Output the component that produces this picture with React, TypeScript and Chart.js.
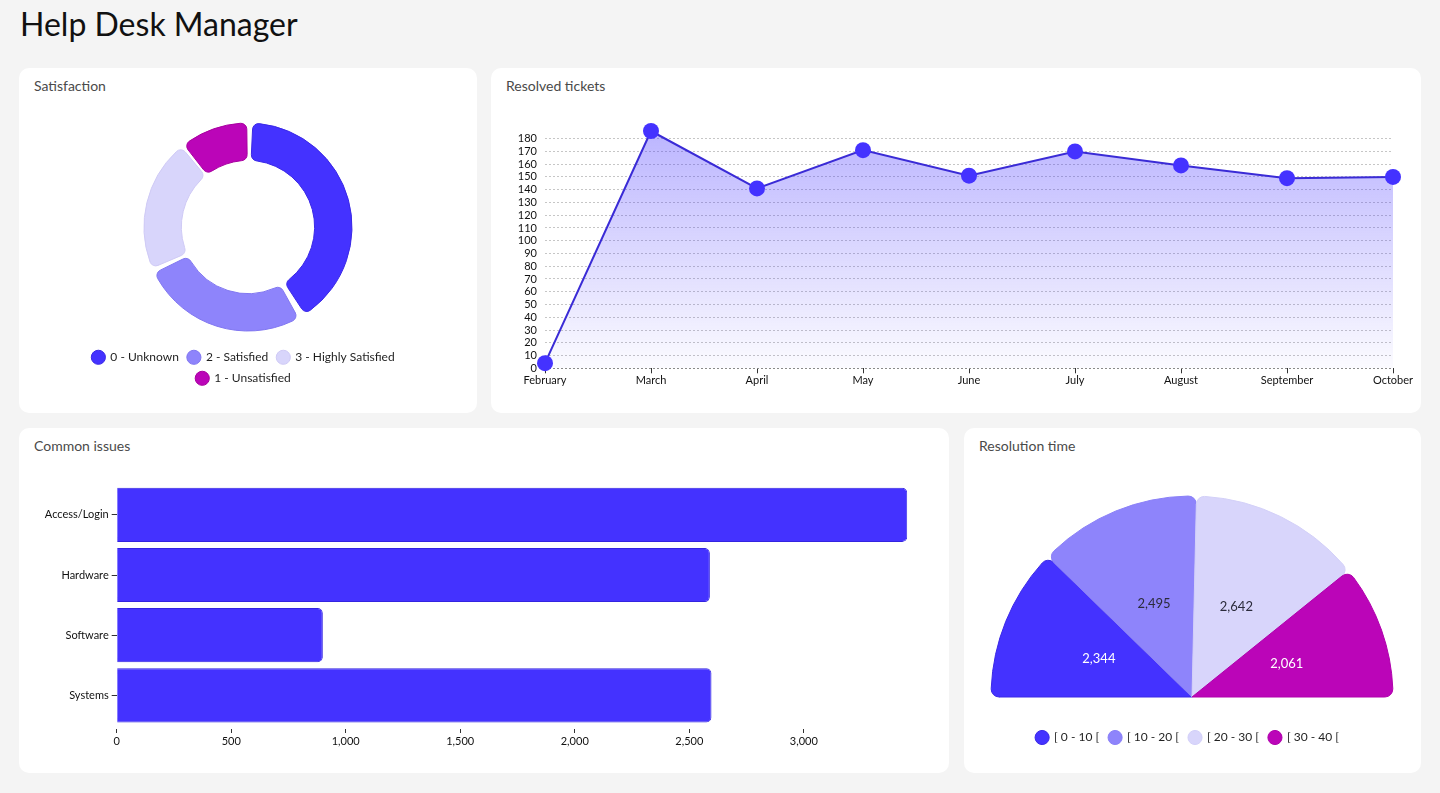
import React, { useEffect, useRef } from 'react';
import { Chart, registerables } from 'chart.js';

Chart.register(...registerables);
Chart.defaults.font.family = "Lato, 'Noto Sans', sans-serif";
Chart.defaults.color = '#1f1f1f';

// ---------- data ----------
const satisfactionLabels = ['0 - Unknown', '2 - Satisfied', '3 - Highly Satisfied', '1 - Unsatisfied'];
const satisfactionValues = [415, 267, 211, 107];
const satisfactionColors = ['#4432ff', '#8e84fb', '#d8d5fb', '#bb05b8'];
const satisfactionBorders = ['#3a28e6', '#8177f0', '#cfcaf5', '#a8009f'];

const months = ['February', 'March', 'April', 'May', 'June', 'July', 'August', 'September', 'October'];
const resolvedTickets = [4, 186, 141, 171, 151, 170, 159, 149, 150];
const resolvedTicks = [0, 10, 20, 30, 40, 50, 60, 70, 80, 90, 100, 110, 120, 130, 140, 150, 160, 170, 180];

const issueCategories = ['Access/Login', 'Hardware', 'Software', 'Systems'];
const issueCounts = [3452, 2590, 900, 2597];
const issueTicks = [0, 500, 1000, 1500, 2000, 2500, 3000];

const resolutionLabels = ['[ 0 - 10 [', '[ 10 - 20 [', '[ 20 - 30 [', '[ 30 - 40 ['];
const resolutionValues = [2344, 2495, 2642, 2061];
const resolutionColors = ['#4432ff', '#8e84fb', '#d8d5fb', '#bb05b8'];
const resolutionBorders = ['#3a28e6', '#8a80f7', '#d3d0f8', '#b000ac'];
const resolutionTextColors = ['#ffffff', '#2b2b3b', '#2b2b3b', '#ffffff'];

// ---------- plugins ----------
const legendShift = {
  id: 'legendShift',
  afterLayout(chart: any, _args: any, opts: any) {
    const d = (opts && opts.dx) || 0;
    if (chart.legend && d) {
      chart.legend.left += d;
      chart.legend.right += d;
    }
  },
};

const sliceLabels = {
  id: 'sliceLabels',
  afterDatasetsDraw(chart: any) {
    const meta = chart.getDatasetMeta(0);
    const ds = chart.data.datasets[0];
    const c = chart.ctx;
    c.save();
    c.font = "13px Lato, 'Noto Sans', sans-serif";
    c.textAlign = 'center';
    c.textBaseline = 'middle';
    meta.data.forEach((arc: any, i: number) => {
      const p = arc.tooltipPosition(false);
      c.fillStyle = resolutionTextColors[i];
      c.fillText(Number(ds.data[i]).toLocaleString('en-US'), p.x, p.y);
    });
    c.restore();
  },
};

// ---------- configs ----------
const satisfactionConfig = (): any => ({
  type: 'doughnut',
  data: {
    labels: satisfactionLabels,
    datasets: [
      {
        data: satisfactionValues,
        backgroundColor: satisfactionColors,
        borderColor: satisfactionBorders,
        borderWidth: 1,
        borderRadius: 6,
        spacing: 6,
      },
    ],
  },
  plugins: [legendShift],
  options: {
    animation: false,
    responsive: true,
    maintainAspectRatio: false,
    radius: 101,
    cutout: '63%',
    layout: { padding: { top: 11.7, bottom: 5.7, left: 40, right: 40 } },
    plugins: {
      legendShift: { dx: -4.5 },
      tooltip: { enabled: false },
      legend: {
        position: 'bottom',
        labels: {
          usePointStyle: true,
          pointStyle: 'circle',
          boxWidth: 12,
          boxHeight: 10,
          padding: 9,
          font: { size: 12 },
          color: '#1f1f1f',
        },
      },
    },
  },
});

const resolvedConfig = (): any => ({
  type: 'line',
  data: {
    labels: months,
    datasets: [
      {
        data: resolvedTickets,
        borderColor: '#3a2bd6',
        borderWidth: 2,
        tension: 0,
        pointRadius: 8,
        pointBorderWidth: 0,
        pointBackgroundColor: '#4432ff',
        pointBorderColor: '#4432ff',
        clip: false,
        fill: 'origin',
        backgroundColor: (ctx: any) => {
          const { chart } = ctx;
          const area = chart.chartArea;
          if (!area) return 'rgba(68,50,255,0.2)';
          const g = chart.ctx.createLinearGradient(0, area.top, 0, area.bottom);
          g.addColorStop(0, 'rgba(68,50,255,0.36)');
          g.addColorStop(1, 'rgba(68,50,255,0.02)');
          return g;
        },
      },
    ],
  },
  options: {
    animation: false,
    responsive: true,
    maintainAspectRatio: false,
    layout: { padding: { top: 31, bottom: 6.7, left: 27, right: 28 } },
    plugins: { legend: { display: false }, tooltip: { enabled: false } },
    scales: {
      x: {
        offset: false,
        afterFit: (a: any) => {
          a.height = 25;
        },
        grid: { drawOnChartArea: false, tickLength: 5, tickColor: '#333' },
        border: { display: false },
        ticks: { padding: 1, font: { size: 11 }, color: '#111', maxRotation: 0, autoSkip: false },
      },
      y: {
        min: 0,
        max: Math.max(...resolvedTickets),
        afterBuildTicks: (a: any) => {
          a.ticks = resolvedTicks.map((v) => ({ value: v }));
        },
        afterFit: (a: any) => {
          a.width = 27;
        },
        grid: {
          drawTicks: false,
          color: (c: any) => (c.tick && c.tick.value === 0 ? '#8a8a8a' : '#c6c6c6'),
        },
        border: { display: false, dash: [2, 2] },
        ticks: { padding: 8, font: { size: 11 }, color: '#111', autoSkip: false },
      },
    },
  },
});

const issuesConfig = (): any => ({
  type: 'bar',
  data: {
    labels: issueCategories,
    datasets: [
      {
        data: issueCounts,
        backgroundColor: '#4432ff',
        borderColor: '#3324e0',
        borderWidth: 1,
        borderRadius: 5,
        borderSkipped: 'start',
        barPercentage: 0.9,
        categoryPercentage: 1,
      },
    ],
  },
  options: {
    indexAxis: 'y',
    animation: false,
    responsive: true,
    maintainAspectRatio: false,
    layout: { padding: { top: 24.8, bottom: 9.6, left: 17.7, right: 41.7 } },
    plugins: { legend: { display: false }, tooltip: { enabled: false } },
    scales: {
      x: {
        min: 0,
        max: Math.max(...issueCounts),
        afterBuildTicks: (a: any) => {
          a.ticks = issueTicks.map((v) => ({ value: v }));
        },
        afterFit: (a: any) => {
          a.height = 25;
        },
        grid: {
          drawOnChartArea: false,
          tickLength: 8,
          tickBorderDash: [0, 4, 4, 100],
          tickColor: '#333',
        },
        border: { display: false },
        ticks: { padding: 1, font: { size: 11 }, color: '#111', autoSkip: false },
      },
      y: {
        afterFit: (a: any) => {
          a.width = 80;
        },
        grid: { drawOnChartArea: false, offset: false, tickLength: 5, tickColor: '#333' },
        border: { display: false },
        ticks: { padding: 3, font: { size: 11 }, color: '#111', autoSkip: false },
      },
    },
  },
});

const resolutionConfig = (): any => ({
  type: 'pie',
  data: {
    labels: resolutionLabels,
    datasets: [
      {
        data: resolutionValues,
        backgroundColor: resolutionColors,
        borderColor: resolutionBorders,
        borderWidth: 1,
        borderRadius: 8,
      },
    ],
  },
  plugins: [legendShift, sliceLabels],
  options: {
    animation: false,
    responsive: true,
    maintainAspectRatio: false,
    rotation: -90,
    circumference: 180,
    radius: 201,
    layout: { padding: { top: 11.5, bottom: 6.5, left: 20, right: 21 } },
    plugins: {
      legendShift: { dx: -4.5 },
      tooltip: { enabled: false },
      legend: {
        position: 'bottom',
        labels: {
          usePointStyle: true,
          pointStyle: 'circle',
          boxWidth: 12,
          boxHeight: 10,
          padding: 10,
          font: { size: 12 },
          color: '#1f1f1f',
        },
      },
    },
  },
});

// ---------- components ----------
type Box = { left: number; top: number; width: number; height: number };

function ChartBox({ box, make }: { box: Box; make: () => any }) {
  const ref = useRef<HTMLCanvasElement>(null);
  useEffect(() => {
    const chart = new Chart(ref.current as HTMLCanvasElement, make());
    return () => chart.destroy();
  }, []);
  return (
    <div style={{ position: 'absolute', left: box.left, top: box.top, width: box.width, height: box.height }}>
      <canvas ref={ref} />
    </div>
  );
}

function Card({ box, title }: { box: Box; title: string }) {
  return (
    <div
      style={{
        position: 'absolute',
        left: box.left,
        top: box.top,
        width: box.width,
        height: box.height,
        background: '#ffffff',
        borderRadius: 10,
      }}
    >
      <div
        style={{
          position: 'absolute',
          left: 15,
          top: 10.5,
          fontSize: 14,
          lineHeight: '14px',
          color: '#4a4a4a',
          whiteSpace: 'nowrap',
        }}
      >
        {title}
      </div>
    </div>
  );
}

export default function App() {
  return (
    <div
      style={{
        position: 'fixed',
        inset: 0,
        background: '#f4f4f4',
        fontFamily: "Lato, 'Noto Sans', sans-serif",
        overflow: 'hidden',
      }}
    >
      <div
        style={{
          position: 'absolute',
          left: 20,
          top: 8,
          fontSize: 32,
          lineHeight: '32px',
          color: '#111',
          whiteSpace: 'nowrap',
        }}
      >
        Help Desk Manager
      </div>

      <Card box={{ left: 19, top: 68, width: 458, height: 345 }} title="Satisfaction" />
      <Card box={{ left: 491, top: 68, width: 930, height: 345 }} title="Resolved tickets" />
      <Card box={{ left: 19, top: 428, width: 930, height: 345 }} title="Common issues" />
      <Card box={{ left: 964, top: 428, width: 457, height: 345 }} title="Resolution time" />

      <ChartBox box={{ left: 19, top: 100, width: 458, height: 300 }} make={satisfactionConfig} />
      <ChartBox box={{ left: 491, top: 100, width: 930, height: 300 }} make={resolvedConfig} />
      <ChartBox box={{ left: 19, top: 460, width: 930, height: 300 }} make={issuesConfig} />
      <ChartBox box={{ left: 964, top: 460, width: 457, height: 300 }} make={resolutionConfig} />
    </div>
  );
}
